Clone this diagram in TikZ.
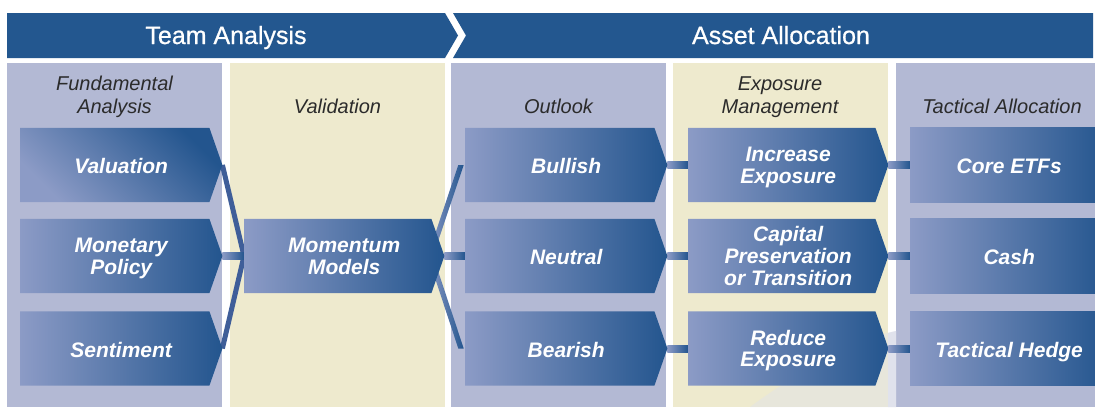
\documentclass[tikz,border=0pt]{standalone}
\usepackage{fontspec}
\setmainfont{Liberation Sans}
\newfontfamily\hdrff{Liberation Sans}[FakeBold=0.7]
\usetikzlibrary{calc}
\definecolor{hdr}{HTML}{23578F}
\definecolor{lav}{HTML}{B3B9D4}
\definecolor{cream}{HTML}{EEEACE}
\definecolor{boxl}{HTML}{8C9BC6}
\definecolor{boxd}{HTML}{23558E}
\definecolor{connc}{HTML}{3F5E99}
\definecolor{txtg}{HTML}{2B2B2B}
\definecolor{swoosh}{HTML}{E0E2EC}
\newcommand\hdrfont{\hdrff\fontsize{25}{30}\selectfont}
\newcommand\colfont{\fontsize{20}{23}\selectfont\itshape}
\newcommand\boxfont{\fontsize{21}{21.5}\selectfont\bfseries\itshape}
\newcommand\oneline[1]{\raisebox{-1pt}[\height][0pt]{#1}}
\newcommand\multiline[1]{\raisebox{-3.2pt}[\height][\depth]{\begin{tabular}{@{}c@{}}#1\end{tabular}}}
\pgfdeclarelayer{cols}\pgfdeclarelayer{conns}\pgfdeclarelayer{boxes}
\pgfsetlayers{cols,conns,boxes,main}
\tikzset{
  lbl/.style={minimum height=74pt, inner sep=0pt, text=white, font=\boxfont, align=center},
  boxshade/.style={left color=boxl, right color=boxd},
  hdrtxt/.style={text=white, font=\hdrfont, inner sep=0pt},
  coltxt/.style={text=txtg, font=\colfont, inner sep=0pt},
  connl/.style={draw=connc, line width=5pt},
  connh/.style={left color=boxl, right color=boxd},
}
% optional shading options; name, left x, centre y, width, text
\newcommand\abox[6][]{%
  \node[lbl, minimum width=#5, anchor=west] (#2) at (#3,#4) {#6};
  \begin{pgfonlayer}{boxes}
  \shade[boxshade,#1] (#2.north west) -- ($(#2.north east)+(-13,0)$) -- (#2.east)
     -- ($(#2.south east)+(-13,0)$) -- (#2.south west) -- cycle;
  \end{pgfonlayer}}
\newcommand\rbox[5]{%
  \node[lbl, minimum width=#4, anchor=west] (#1) at (#2,#3) {#5};
  \begin{pgfonlayer}{boxes}
  \shade[boxshade] (#1.north west) rectangle (#1.south east);
  \end{pgfonlayer}}
\begin{document}
\begin{tikzpicture}[x=1pt,y=-1pt]
\useasboundingbox (0,0) rectangle (1095,407);
\begin{pgfonlayer}{cols}
  \fill[white] (0,0) rectangle (1095,407);
  % header
  \fill[hdr] (7,13) -- (445,13) -- (458,35.5) -- (445,58) -- (7,58) -- cycle;
  \fill[hdr] (453,13) -- (1093,13) -- (1093,58) -- (453,58) -- (466,35.5) -- cycle;
  % columns
  \fill[lav]   (7,63)   rectangle (222,407);
  \fill[cream] (230,63) rectangle (445,407);
  \fill[lav]   (451,63) rectangle (666,407);
  \fill[cream] (673,63) rectangle (888,407);
  \fill[lav]   (896,63) rectangle (1095,407);
  \fill[swoosh, opacity=0.45] (896,331) .. controls (865,336) and (800,370) .. (750,407) -- (896,407) -- cycle;
  \fill[swoosh] (888,333) -- (896,331) -- (896,407) -- (888,407) -- cycle;
\end{pgfonlayer}

\node[hdrtxt, anchor=base] (ta) at (226,44) {Team Analysis};
\node[hdrtxt, anchor=base] (aa) at (781,44) {Asset Allocation};

\node[coltxt, anchor=base] (h1a) at (114.5,90) {Fundamental};
\node[coltxt, anchor=base] (h1b) at (114.5,113) {Analysis};
\node[coltxt, anchor=base] (h2) at (337.5,113) {Validation};
\node[coltxt, anchor=base] (h3) at (558.5,113) {Outlook};
\node[coltxt, anchor=base] (h4a) at (780,90) {Exposure};
\node[coltxt, anchor=base] (h4b) at (780,113) {Management};
\node[coltxt, anchor=base] (h5) at (1002,113) {Tactical Allocation};

% boxes
\abox[shading angle=135]{val}{20}{165}{202pt}{\oneline{Valuation}}
\abox{mon}{20}{256}{202pt}{\multiline{Monetary\\Policy}}
\abox{sen}{20}{348.5}{202pt}{\oneline{Sentiment}}
\abox{mom}{244}{256}{200pt}{\multiline{Momentum\\Models}}
\abox{bul}{465}{165}{202pt}{\oneline{Bullish}}
\abox{neu}{465}{256}{202pt}{\oneline{Neutral}}
\abox{bea}{465}{348.5}{202pt}{\oneline{Bearish}}
\abox{inc}{688}{165}{200pt}{\multiline{Increase\\Exposure}}
\abox{cap}{688}{256}{200pt}{\multiline{Capital\\Preservation\\or Transition}}
\abox{red}{688}{348.5}{200pt}{\multiline{Reduce\\Exposure}}
\rbox{core}{910}{165}{198pt}{\oneline{Core ETFs}}
\rbox{cash}{910}{256}{198pt}{\oneline{Cash}}
\rbox{hedge}{910}{348.5}{198pt}{\oneline{Tactical Hedge}}

% connectors
\begin{pgfonlayer}{conns}
  \draw[connl] (val.east) -- (mom.west);
  \draw[connl] (sen.east) -- (mom.west);
  \shade[connh] ($(mon.east)+(0,-3.5)$) rectangle ($(mom.west)+(0,3.5)$);
  \coordinate (mu) at ($(mom.east)+(-14,0)$);
  \coordinate (bu) at ($(bul.west)+(-4,0)$);
  \coordinate (bd) at ($(bea.west)+(-4,0)$);
  \shade[connh] ($(mu)+(-2.7,0)$) -- ($(mu)+(2.7,0)$) -- ($(bu)+(2.7,0)$) -- ($(bu)+(-2.7,0)$) -- cycle;
  \shade[connh] ($(mu)+(-2.7,0)$) -- ($(mu)+(2.7,0)$) -- ($(bd)+(2.7,0)$) -- ($(bd)+(-2.7,0)$) -- cycle;
  \shade[connh] ($(mom.east)+(0,-3.5)$) rectangle ($(neu.west)+(0,3.5)$);
  \shade[connh] ($(bul.east)+(0,-3.5)$) rectangle ($(inc.west)+(0,3.5)$);
  \shade[connh] ($(neu.east)+(0,-3.5)$) rectangle ($(cap.west)+(0,3.5)$);
  \shade[connh] ($(bea.east)+(0,-3.5)$) rectangle ($(red.west)+(0,3.5)$);
  \shade[connh] ($(inc.east)+(0,-3.5)$) rectangle ($(core.west)+(0,3.5)$);
  \shade[connh] ($(cap.east)+(0,-3.5)$) rectangle ($(cash.west)+(0,3.5)$);
  \shade[connh] ($(red.east)+(0,-3.5)$) rectangle ($(hedge.west)+(0,3.5)$);
\end{pgfonlayer}
\end{tikzpicture}
\end{document}
